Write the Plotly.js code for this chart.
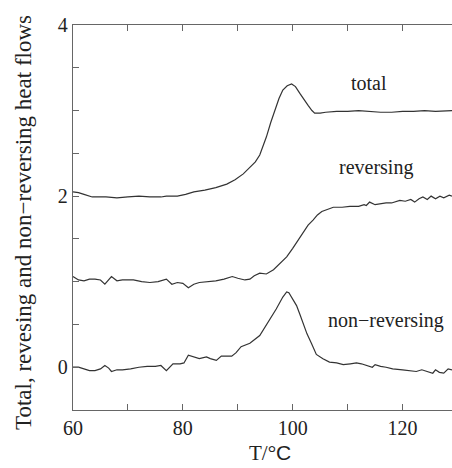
<!DOCTYPE html>
<html>
<head>
<meta charset="utf-8">
<script src="https://cdn.plot.ly/plotly-3.0.1.min.js"></script>
<style>html,body{margin:0;padding:0;background:#fff;}#chart{width:452px;height:468px;}</style>
</head>
<body>
<div id="chart"></div>
<script>
const totalX = [60,61,62,63.5,66,68,70,72,74,76,77,79,80.5,82,84,86,88,89.5,91,92.2,93.2,94,95.2,96,96.7,97.5,98.2,99,99.8,100.5,101.3,102,102.8,103.5,104,105,106,108,110,112,114,116,118,120,122,124,126,128,129];
const totalY = [2.05,2.04,2.02,1.99,1.99,1.98,1.99,2.00,1.99,1.99,2.00,2.00,2.02,2.05,2.07,2.10,2.14,2.19,2.26,2.33,2.40,2.48,2.69,2.86,3.00,3.14,3.24,3.29,3.31,3.28,3.20,3.13,3.06,3.00,2.97,2.97,2.98,2.99,2.99,3.00,2.99,2.98,2.98,2.99,2.99,3.00,2.99,3.00,3.00];

const revX = [60,61,62,63,64,65,65.8,67,68,69,71,72.5,74,75.5,77,78,79,80,81,82,83,84.5,86,87.5,89,90,91.3,92.2,93,94,95.2,96.5,97.5,98.9,100,101,101.9,102.8,103.7,104.5,105.3,106.1,107.4,109,110.4,112,113,113.4,114,115,116,117,118,119.5,120.5,121.5,122.2,123,123.7,124.5,125.2,126,126.8,127.5,128.5,129];
const revY = [1.06,1.02,1.01,1.03,1.03,1.02,0.97,1.06,1.01,1.02,1.02,1.00,0.99,1.00,1.03,0.97,0.99,0.98,0.93,0.97,0.99,1.00,1.01,1.03,1.06,1.04,1.02,1.03,1.07,1.10,1.09,1.14,1.20,1.29,1.39,1.49,1.58,1.66,1.72,1.78,1.82,1.84,1.87,1.87,1.88,1.88,1.90,1.89,1.93,1.90,1.91,1.92,1.92,1.95,1.94,1.96,1.93,1.97,1.99,1.96,2.00,1.97,2.00,1.98,2.01,2.00];

const nonX = [60,61,62,63,64,65,65.8,66.5,67,68,69,70.5,72,73.5,75,76,77,78.2,79.5,80.2,81,82,83,84.3,85,86.1,87,88.9,89.7,90.6,92.2,94,95.5,97,98.2,98.9,99.3,100,100.7,101.3,101.9,102.6,103.4,104.3,105.5,106.7,108,109.2,110.5,111.6,112.5,113.5,114.5,115,116,117,118.2,120,121.5,122.5,123.5,124.5,125.5,126,126.7,127.5,128.3,129];
const nonY = [0.0,0.0,-0.02,-0.04,-0.04,-0.02,0.02,-0.01,-0.05,-0.03,-0.03,-0.02,0.0,0.01,0.01,0.02,-0.04,0.04,0.04,0.05,0.14,0.12,0.10,0.12,0.10,0.08,0.13,0.13,0.17,0.24,0.28,0.37,0.52,0.68,0.82,0.88,0.87,0.80,0.72,0.62,0.51,0.39,0.28,0.15,0.10,0.06,0.05,0.03,0.04,0.05,0.04,0.02,0.00,0.03,0.01,0.00,-0.02,-0.03,-0.04,-0.05,-0.03,-0.05,-0.07,-0.03,-0.06,-0.07,-0.02,-0.03];

const xTickVals = [60,70,80,90,100,110,120];
const xTickText = ['60','','80','','100','','120'];
const yTickVals = [0,0.5,1,1.5,2,2.5,3,3.5,4];
const yTickText = ['0','','','','2','','','','4'];

const labels = ['total','reversing','non\u2212reversing'];
const labelX = [113.8,115.2,116.9];
const labelY = [3.32,2.34,0.55];

const xTitle = 'T/\u00b0<span style="font-family:\'Liberation Sans\', Arial, sans-serif">C</span>';
const yTitle = 'Total, revesing and non\u2212reversing heat flows';

const lineStyle = {color:'#333', width:1.2};
const serif = '"Liberation Serif", "Times New Roman", Times, serif';

const traces = [
  {x: totalX, y: totalY, mode:'lines', line: lineStyle, hoverinfo:'skip'},
  {x: revX, y: revY, mode:'lines', line: lineStyle, hoverinfo:'skip'},
  {x: nonX, y: nonY, mode:'lines', line: lineStyle, hoverinfo:'skip'}
];

const annots = labels.map((t,i)=>({x:labelX[i], y:labelY[i], text:t, showarrow:false, xref:'x', yref:'y', font:{family:serif, size:20, color:'#222'}}));
annots.push({x:0.52, y:-0.112, xref:'paper', yref:'paper', text:xTitle, showarrow:false, xanchor:'center', yanchor:'middle', borderpad:0, font:{family:serif, size:21, color:'#222'}});
annots.push({x:-0.129, y:0.486, xref:'paper', yref:'paper', text:yTitle, textangle:-90, showarrow:false, xanchor:'center', yanchor:'middle', font:{family:serif, size:23, color:'#222'}});

const layout = {
  width: 452, height: 468,
  margin: {l:73, r:0, t:25, b:58},
  paper_bgcolor:'#fff', plot_bgcolor:'#fff',
  showlegend:false,
  font: {family: serif, size: 20, color:'#222'},
  xaxis: {
    range:[60,129], tickvals:xTickVals, ticktext:xTickText,
    ticks:'inside', ticklen:6, tickcolor:'#666', tickwidth:1,
    showline:true, linecolor:'#666', linewidth:1.2, mirror:'ticks',
    showgrid:false, zeroline:false,
    tickfont:{family:serif, size:20, color:'#222'}
  },
  yaxis: {
    range:[-0.5,4], tickvals:yTickVals, ticktext:yTickText,
    ticks:'inside', ticklen:6, tickcolor:'#666', tickwidth:1,
    showline:true, linecolor:'#666', linewidth:1.2,
    showgrid:false, zeroline:false,
    tickfont:{family:serif, size:20, color:'#222'}
  },
  annotations: annots
};

Plotly.newPlot('chart', traces, layout, {staticPlot:true, displayModeBar:false});
</script>
</body>
</html>
